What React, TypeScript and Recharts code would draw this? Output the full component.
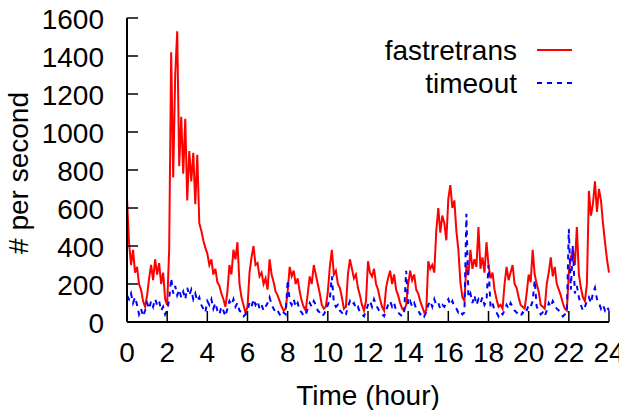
import React from 'react';
import { LineChart, Line, XAxis, YAxis, Legend, Label } from 'recharts';

const FONT = '"Liberation Sans", Arial, Helvetica, sans-serif';

// sampling grid: one reading every 6 minutes over the day
const STEP_HOURS = 0.1;
const hours = Array.from({ length: 241 }, (_, i) => Math.round(i * STEP_HOURS * 10) / 10);

const fastretrans = [
  650, 420, 300, 380, 260, 290, 200, 170, 110, 80,
  140, 230, 300, 220, 330, 250, 310, 200, 260, 120,
  90, 380, 1420, 760, 1300, 1530, 820, 1080, 780, 1070,
  640, 900, 740, 890, 620, 880, 520, 480, 430, 390,
  360, 300, 330, 250, 280, 210, 190, 150, 120, 80,
  160, 300, 250, 380, 330, 420, 200, 130, 90, 50,
  80, 260, 340, 400, 300, 310, 240, 260, 200, 230,
  170, 330, 250, 210, 160, 140, 110, 80, 60, 70,
  160, 290, 240, 270, 200, 230, 160, 110, 80, 60,
  150, 240, 200, 300, 250, 200, 150, 90, 70, 80,
  160, 290, 380, 250, 270, 200, 180, 130, 70, 80,
  250, 330, 280, 230, 250, 180, 140, 90, 60, 110,
  320, 260, 240, 280, 200, 170, 120, 80, 60, 180,
  230, 270, 200, 250, 170, 140, 100, 70, 60, 90,
  200, 270, 220, 250, 170, 150, 110, 80, 50, 60,
  320, 280, 300, 260, 480, 600, 470, 560, 520, 430,
  650, 720, 600, 640, 480, 380, 210, 130, 110, 300,
  250, 380, 280, 330, 290, 500, 280, 340, 260, 420,
  300, 230, 260, 170, 120, 80, 90, 70, 200, 290,
  220, 260, 300, 200, 180, 130, 90, 80, 70, 150,
  250, 210, 380, 250, 200, 160, 90, 80, 70, 200,
  260, 340, 240, 290, 200, 170, 140, 100, 70, 60,
  260, 340, 380, 300, 500, 250, 180, 130, 110, 200,
  690, 560, 620, 740, 580, 700, 640, 520, 420, 330,
  260,
];

const timeout = [
  140, 120, 150, 100, 130, 90, 40, 70, 30, 60,
  100, 70, 110, 80, 120, 90, 110, 60, 80, 40,
  60, 120, 230, 150, 190, 140, 170, 130, 160, 120,
  180, 140, 170, 120, 150, 110, 130, 90, 70, 50,
  110, 90, 120, 70, 100, 60, 40, 80, 60, 30,
  70, 110, 90, 120, 80, 100, 60, 50, 30, 40,
  60, 100, 80, 120, 90, 110, 70, 90, 60, 80,
  100, 130, 90, 70, 50, 60, 40, 30, 50, 40,
  220, 110, 90, 120, 80, 100, 60, 50, 30, 40,
  70, 100, 80, 110, 90, 60, 50, 30, 40, 60,
  90, 120, 240, 100, 80, 90, 60, 50, 30, 40,
  80, 110, 90, 100, 70, 80, 50, 40, 30, 60,
  90, 110, 80, 120, 90, 70, 50, 40, 30, 60,
  90, 110, 80, 100, 60, 50, 40, 30, 50, 270,
  90, 110, 80, 100, 70, 60, 40, 50, 30, 50,
  90, 110, 80, 120, 90, 100, 70, 90, 80, 100,
  120, 90, 110, 80, 70, 50, 60, 40, 50, 570,
  130, 150, 100, 140, 90, 120, 100, 130, 90, 110,
  300, 80, 100, 60, 50, 30, 50, 40, 60, 90,
  70, 100, 80, 60, 50, 40, 30, 50, 40, 60,
  90, 80, 110, 220, 80, 60, 40, 50, 30, 60,
  100, 80, 110, 90, 70, 60, 50, 30, 40, 50,
  490, 170, 400, 150, 190, 130, 90, 60, 80, 110,
  130, 100, 150, 180, 120, 100, 70, 90, 60, 80,
  60,
];

const xTicks = [0, 2, 4, 6, 8, 10, 12, 14, 16, 18, 20, 22, 24];
const yTicks = [0, 200, 400, 600, 800, 1000, 1200, 1400, 1600];

const data = hours.map((h, i) => ({ h, fastretrans: fastretrans[i], timeout: timeout[i] }));

const DASH: Record<string, string | undefined> = { timeout: '5 5' };
const TICK_LEN = 11;

const BottomTick = ({ x, y, payload }: any) => (
  <g>
    <line x1={x} y1={y} x2={x} y2={y - TICK_LEN} stroke="#000" strokeWidth={1.5} />
    <text x={x} y={y + 40} textAnchor="middle" fontSize={28} fontFamily={FONT} fill="#000">
      {payload.value}
    </text>
  </g>
);

const TopTick = ({ x, y }: any) => (
  <line x1={x} y1={y} x2={x} y2={y + TICK_LEN} stroke="#000" strokeWidth={1.5} />
);

const LeftTick = ({ x, y, payload }: any) => (
  <g>
    <line x1={x} y1={y} x2={x + TICK_LEN} y2={y} stroke="#000" strokeWidth={1.5} />
    <text x={x - 23} y={y + 11} textAnchor="end" fontSize={28} fontFamily={FONT} fill="#000">
      {payload.value}
    </text>
  </g>
);

const RightTick = ({ x, y }: any) => (
  <line x1={x} y1={y} x2={x - TICK_LEN} y2={y} stroke="#000" strokeWidth={1.5} />
);

const YTitle = ({ viewBox }: any) => {
  const cx = viewBox.x + 1;
  const cy = viewBox.y + viewBox.height / 2 + 3;
  return (
    <text
      x={cx}
      y={cy}
      transform={`rotate(-90 ${cx} ${cy})`}
      textAnchor="middle"
      fontSize={28}
      fontFamily={FONT}
      fill="#000"
    >
      # per second
    </text>
  );
};

const renderLegend = ({ payload }: any) => (
  <svg width={619} height={110} style={{ position: 'absolute', left: 0, top: 0, overflow: 'visible' }}>
    {(payload || []).map((entry: any, i: number) => {
      const y = 50 + i * 33;
      return (
        <g key={entry.value}>
          <text x={517} y={y + 10} textAnchor="end" fontSize={28} fontFamily={FONT} fill="#000">
            {entry.value}
          </text>
          <line
            x1={537}
            y1={y}
            x2={572}
            y2={y}
            stroke={entry.color}
            strokeWidth={2}
            strokeDasharray={DASH[entry.dataKey]}
          />
        </g>
      );
    })}
  </svg>
);

export default function App() {
  return (
    <div style={{ position: 'absolute', left: 0, top: 0, background: '#fff' }}>
      <LineChart width={619} height={410} data={data} margin={{ top: 18, right: 10, bottom: 0, left: 27 }}>
        <XAxis
          dataKey="h"
          type="number"
          domain={[0, 24]}
          ticks={xTicks}
          interval={0}
          height={88}
          tickSize={0}
          tickMargin={0}
          tickLine={false}
          tick={<BottomTick />}
          axisLine={{ stroke: '#000', strokeWidth: 2 }}
        >
          <Label value="Time (hour)" position="insideBottom" offset={5} fontSize={28} fontFamily={FONT} fill="#000" />
        </XAxis>
        <XAxis
          xAxisId="top"
          dataKey="h"
          type="number"
          orientation="top"
          domain={[0, 24]}
          ticks={xTicks}
          interval={0}
          height={0}
          tickSize={0}
          tickMargin={0}
          tickLine={false}
          tick={<TopTick />}
          axisLine={{ stroke: '#000', strokeWidth: 2 }}
        />
        <YAxis
          type="number"
          domain={[0, 1600]}
          ticks={yTicks}
          interval={0}
          width={100}
          tickSize={0}
          tickMargin={0}
          tickLine={false}
          tick={<LeftTick />}
          axisLine={{ stroke: '#000', strokeWidth: 2 }}
          label={{ content: <YTitle /> }}
        />
        <YAxis
          yAxisId="right"
          type="number"
          orientation="right"
          domain={[0, 1600]}
          ticks={yTicks}
          interval={0}
          width={0}
          tickSize={0}
          tickMargin={0}
          tickLine={false}
          tick={<RightTick />}
          axisLine={{ stroke: '#000', strokeWidth: 2 }}
        />
        <Legend
          layout="horizontal"
          verticalAlign="middle"
          align="center"
          content={renderLegend}
          wrapperStyle={{ position: 'absolute', left: 0, top: 0, width: 619, height: 0 }}
        />
        <Line
          type="linear"
          dataKey="fastretrans"
          name="fastretrans"
          stroke="#ff0000"
          strokeWidth={2}
          dot={false}
          isAnimationActive={false}
        />
        <Line
          type="linear"
          dataKey="timeout"
          name="timeout"
          stroke="#0000ff"
          strokeWidth={2}
          strokeDasharray={DASH.timeout}
          dot={false}
          isAnimationActive={false}
        />
      </LineChart>
    </div>
  );
}
